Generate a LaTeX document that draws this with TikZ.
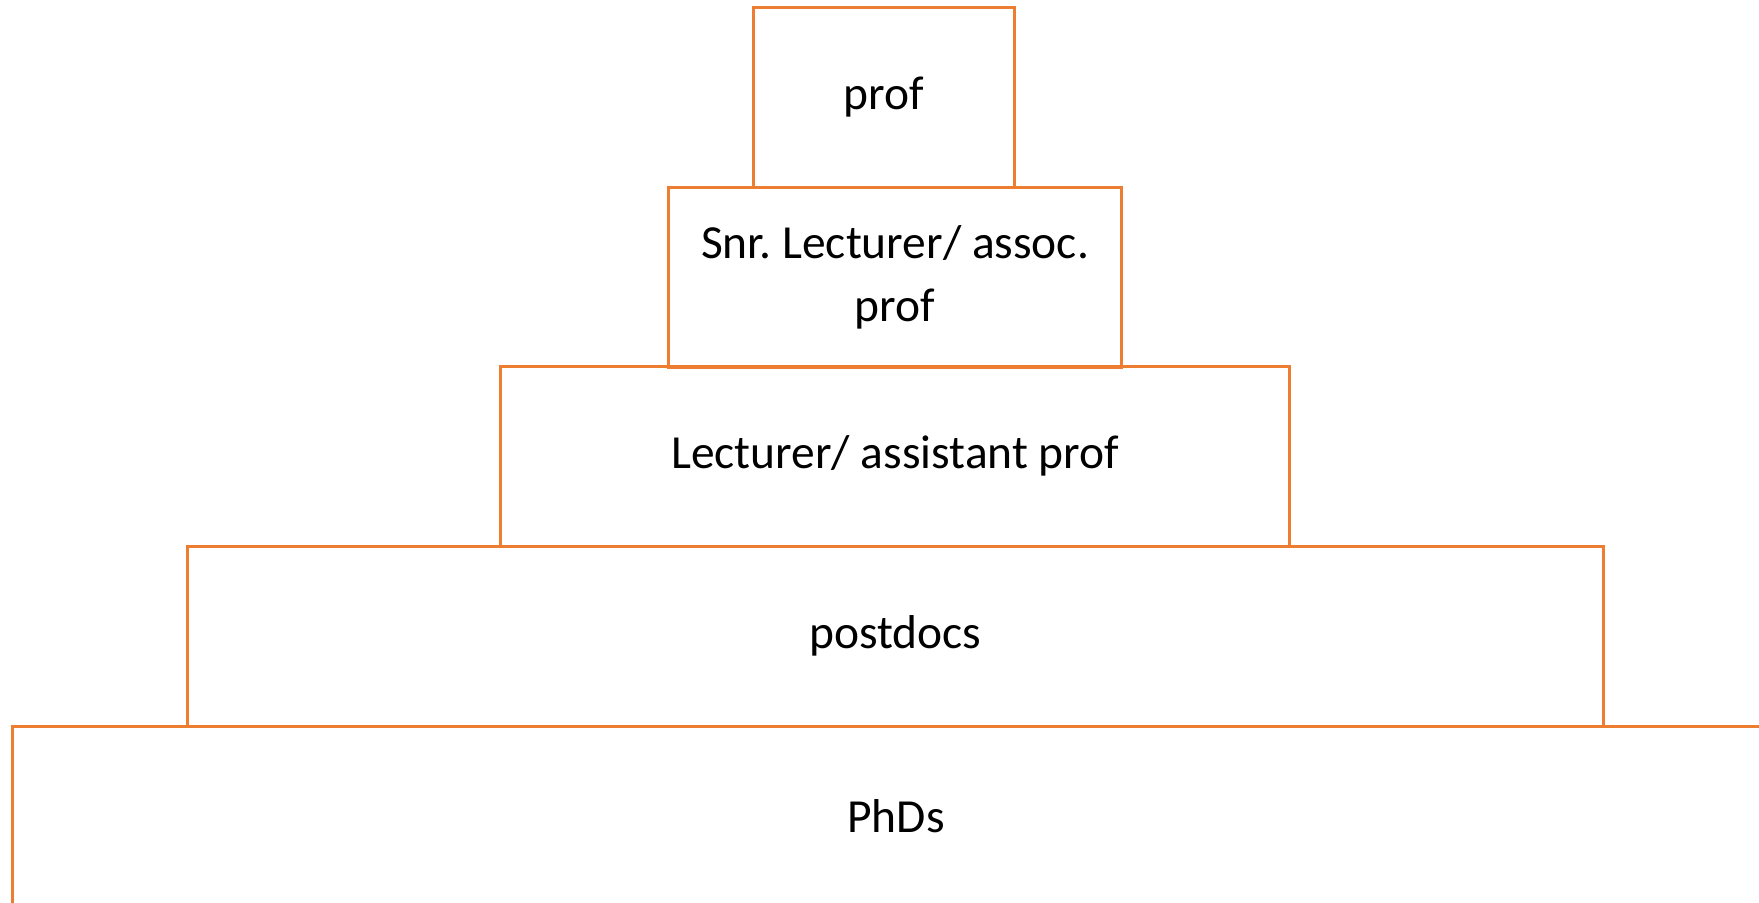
\documentclass[tikz,border=0pt]{standalone}
\usepackage{fontspec}
\setmainfont{Carlito}
\frenchspacing
\definecolor{boxorange}{HTML}{ED7D31}
\begin{document}
\begin{tikzpicture}[x=0.01cm,y=-0.01cm,
  layer/.style={draw=boxorange,line width=0.85pt,anchor=north west,inner sep=0pt,
    minimum height=1.795cm,align=center,font=\fontsize{13.5}{16}\selectfont}]
\useasboundingbox (0,0) rectangle (1759,902);
\clip (0,0) rectangle (1759,902);

% pyramid, top to bottom
\node[layer,minimum width=2.61cm] (prof) at (752,6) {prof};
\node[layer,minimum width=4.53cm] (snr) at (667,186) {Snr. Lecturer/ assoc.\\[2pt]prof};
\node[layer,minimum width=7.89cm] (lect) at (499,365) {Lecturer/ assistant prof};
\node[layer,minimum width=14.15cm] (postdocs) at (186,545) {postdocs};
\node[layer,minimum width=17.66cm] (phds) at (11,725) {PhDs};

\end{tikzpicture}
\end{document}
